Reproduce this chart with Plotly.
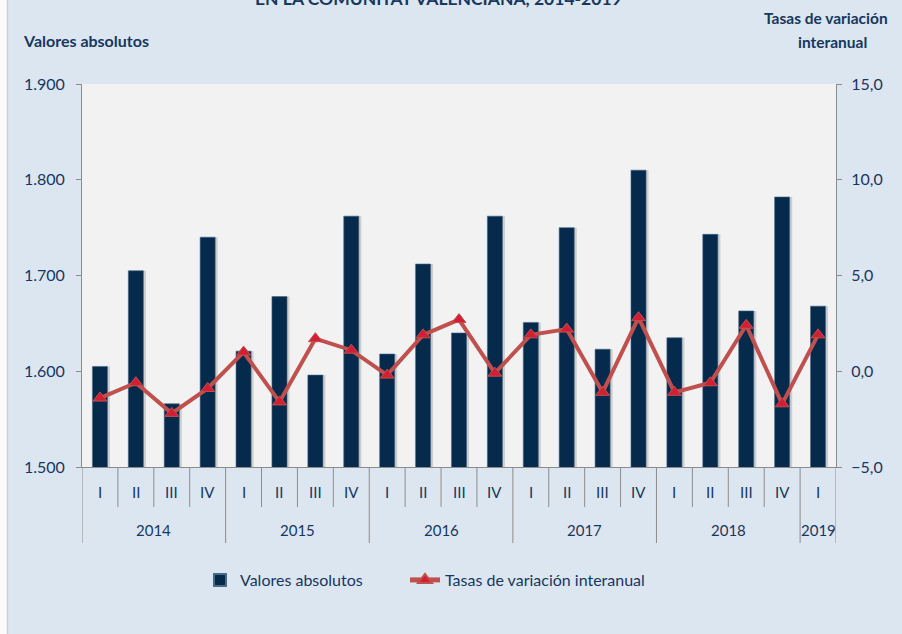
import plotly.graph_objects as go

# ---- data ----
years = ["2014", "2015", "2016", "2017", "2018", "2019"]
quarters_per_year = [4, 4, 4, 4, 4, 1]
quarter_names = ["I", "II", "III", "IV"]
valores_absolutos = [1605, 1705, 1566, 1740,
                     1621, 1678, 1596, 1762,
                     1618, 1712, 1640, 1762,
                     1651, 1750, 1623, 1810,
                     1635, 1743, 1663, 1782,
                     1668]
tasas_variacion = [-1.4, -0.6, -2.2, -0.9,
                   1.0, -1.6, 1.7, 1.1,
                   -0.2, 1.9, 2.7, -0.1,
                   1.9, 2.2, -1.1, 2.8,
                   -1.1, -0.6, 2.4, -1.7,
                   1.9]
title_text = "EN LA COMUNITAT VALENCIANA, 2014-2019"

quarters = []
year_of = []
for y, n in zip(years, quarters_per_year):
    for q in range(n):
        quarters.append(quarter_names[q])
        year_of.append(y)
idx = list(range(len(quarters)))

FONT = "Lato"
NAVY = "#17375e"
AXIS = "#8c8c8c"
BAR = "#062a4b"

L, R, T, B = 82, 836, 84, 467
W, H = 902, 634

def py(pix):
    return (B - pix) / (B - T)

def px(pix):
    return (pix - L) / (R - L)

fig = go.Figure()

# soft shadow behind bars
fig.add_trace(go.Bar(x=idx, y=valores_absolutos, width=0.44, offset=-0.16,
                     marker=dict(color="rgba(0,0,0,0.15)", line=dict(width=0)),
                     showlegend=False, hoverinfo="skip", yaxis="y"))
fig.add_trace(go.Bar(x=idx, y=valores_absolutos, width=0.42, offset=-0.21,
                     name="Valores absolutos", legend="legend",
                     marker=dict(color=BAR, line=dict(color="#4a6a8a", width=0.6)),
                     yaxis="y"))
fig.add_trace(go.Scatter(x=idx, y=tasas_variacion, mode="lines+markers",
                         name="Tasas de variación interanual", legend="legend2",
                         line=dict(color="#c0504d", width=4),
                         marker=dict(symbol="triangle-up", size=12, color="#d21f33",
                                     line=dict(color="#c0504d", width=1)),
                         yaxis="y2"))

shapes = []
ann = []
# left page edge strip
shapes.append(dict(type="rect", xref="paper", yref="paper", x0=px(0), x1=px(7),
                   y0=py(H), y1=py(0), fillcolor="#fafafa", line=dict(width=0),
                   layer="above"))
shapes.append(dict(type="line", xref="paper", yref="paper", x0=px(7.5), x1=px(7.5),
                   y0=py(H), y1=py(0), line=dict(color="#cfcfcf", width=1.5),
                   layer="above"))
# quarter dividers and year dividers
year_bounds = [-0.5]
pos = -0.5
for n in quarters_per_year:
    pos += n
    year_bounds.append(pos)
for k in range(len(quarters) + 1):
    b = k - 0.5
    long_ = b in year_bounds
    shapes.append(dict(type="line", xref="x", yref="paper", x0=b, x1=b,
                       y0=0, y1=py(543 if long_ else 507),
                       line=dict(color=AXIS, width=1)))
for i, q in enumerate(quarters):
    ann.append(dict(x=i, y=py(492), xref="x", yref="paper", text=q, showarrow=False,
                    font=dict(family=FONT, size=15, color=NAVY), yanchor="middle"))
for j, y in enumerate(years):
    c = (year_bounds[j] + year_bounds[j + 1]) / 2
    ann.append(dict(x=c, y=py(530), xref="x", yref="paper", text=y, showarrow=False,
                    font=dict(family=FONT, size=15, color=NAVY), yanchor="middle"))

ann.append(dict(x=px(438), y=py(-2), xref="paper", yref="paper", text="<b>" + title_text + "</b>",
                showarrow=False, font=dict(family=FONT, size=17.5, color=NAVY),
                xanchor="center", yanchor="middle"))
ann.append(dict(x=px(86), y=py(40), xref="paper", yref="paper", text="<b>Valores absolutos</b>",
                showarrow=False, font=dict(family=FONT, size=16, color=NAVY),
                xanchor="center", yanchor="middle"))
ann.append(dict(x=px(826), y=py(18), xref="paper", yref="paper", text="<b>Tasas de variación</b>",
                showarrow=False, font=dict(family=FONT, size=15.5, color=NAVY),
                xanchor="center", yanchor="middle"))
ann.append(dict(x=px(832), y=py(42), xref="paper", yref="paper", text="<b>interanual</b>",
                showarrow=False, font=dict(family=FONT, size=15.5, color=NAVY),
                xanchor="center", yanchor="middle"))

leg_common = dict(orientation="h", yanchor="middle", y=py(580), xanchor="left",
                  bgcolor="rgba(0,0,0,0)", font=dict(family=FONT, size=16, color=NAVY),
                  itemsizing="constant")

fig.update_layout(
    width=W, height=H,
    margin=dict(l=L, r=W - R, t=T, b=H - B, autoexpand=False),
    paper_bgcolor="#dce6f1",
    plot_bgcolor="#f2f2f2",
    separators=",.",
    barmode="overlay",
    font=dict(family=FONT, color=NAVY, size=15),
    xaxis=dict(range=[-0.5, len(quarters) - 0.5], showticklabels=False, ticks="",
               showgrid=False, zeroline=False, showline=True, linecolor=AXIS, linewidth=1),
    yaxis=dict(range=[1500, 1900], dtick=100, tickformat=",.0f", showgrid=False,
               zeroline=False, showline=True, linecolor=AXIS, linewidth=1,
               ticks="outside", ticklen=5, tickcolor=AXIS, ticklabelstandoff=8,
               tickfont=dict(family=FONT, size=16, color=NAVY)),
    yaxis2=dict(range=[-5, 15], dtick=5, tickformat=".1f", overlaying="y", side="right",
                showgrid=False, zeroline=False, showline=True, linecolor=AXIS, linewidth=1,
                ticks="outside", ticklen=5, tickcolor=AXIS, ticklabelstandoff=6,
                tickfont=dict(family=FONT, size=16, color=NAVY)),
    legend=dict(x=px(200), **leg_common),
    legend2=dict(x=px(405), **leg_common),
    shapes=shapes,
    annotations=ann,
    showlegend=True,
)

fig.write_html("out.html", config={"displayModeBar": False},
               post_script="document.body.style.margin='0px';document.body.style.overflow='hidden';")
